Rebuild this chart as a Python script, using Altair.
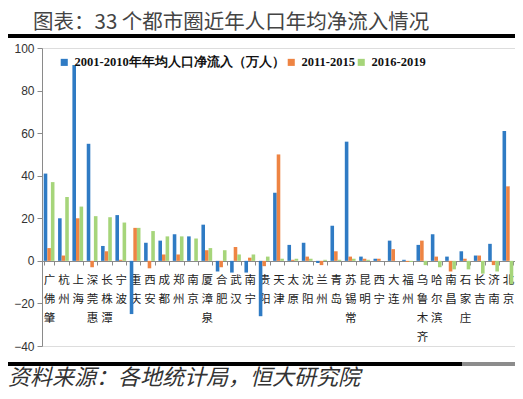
import altair as alt
import pandas as pd

title_text = "图表：33 个都市圈近年人口年均净流入情况"
source_text = "资料来源：各地统计局，恒大研究院"

cats = ["广佛肇", "杭州", "上海", "深莞惠", "长株潭", "宁波", "重庆", "西安", "成都", "郑州",
        "南京", "厦漳泉", "合肥", "武汉", "南宁", "贵阳", "天津", "太原", "沈阳", "兰州",
        "青岛", "苏锡常", "昆明", "西宁", "大连", "福州", "乌鲁木齐", "哈尔滨", "南昌", "石家庄",
        "长吉", "济南", "北京"]

series_names = ["2001-2010年年均人口净流入（万人）", "2011-2015", "2016-2019"]

s2001_2010 = [41, 20, 92, 55, 7, 21.5, -25, 8.5, 9.5, 12.5,
              11.5, 17, -5, -5.5, -5.5, -26, 32, 7.5, 8.5, -1,
              16.5, 56, 2, 1, 9.5, 0.5, 7.5, 12.5, 2, 4.5,
              2.5, 8, 61]
s2011_2015 = [6, 2.5, 20, -3, 4.5, 0.5, 15.5, -3.5, 3, 3,
              0, 5, -3, 6.5, 1.5, -2.5, 50, 0.5, 2, -2,
              4.5, 2, 1, 1, 5.5, -0.5, 9.5, 2, -5, 1,
              2.5, -2, 35]
s2016_2019 = [37, 30, 25.5, 21, 20.5, 18, 15.5, 14, 11.5, 11.5,
              10.5, 6, 5, 3, 3, 2, 1, 1, 1, 0.5,
              0.5, 1, 0.5, 0, 0, -0.5, -2, -3, -4, -4,
              -6, -5, -11]

colors = ["#2F7BC4", "#EE8443", "#A6D57A"]
y_ticks = [-40, -20, 0, 20, 40, 60, 80, 100]

rows = []
for name, vals in zip(series_names, [s2001_2010, s2011_2015, s2016_2019]):
    for c, v in zip(cats, vals):
        rows.append({"city": c, "series": name, "value": v})
df = pd.DataFrame(rows)

bars = alt.Chart(df).mark_bar().encode(
    x=alt.X("city:N", sort=cats,
            scale=alt.Scale(paddingInner=0.25, paddingOuter=0.12),
            axis=alt.Axis(title=None, orient="bottom", offset=-85,
                          labelExpr="split(datum.label, '')",
                          labelAngle=0, labelFontSize=11.5, labelLineHeight=19,
                          labelFont="Noto Sans CJK SC", labelColor="#222",
                          labelPadding=9, labelBaseline="top",
                          tickBand="extent", tickSize=4,
                          domainColor="#8a8a8a", tickColor="#8a8a8a")),
    xOffset=alt.XOffset("series:N", sort=series_names),
    y=alt.Y("value:Q", scale=alt.Scale(domain=[-40, 100], nice=False),
            axis=alt.Axis(values=y_ticks, title=None, grid=False,
                          labelFont="Liberation Sans", labelFontSize=12,
                          labelColor="#333", tickSize=5, labelPadding=3,
                          domainColor="#8a8a8a", tickColor="#8a8a8a")),
    color=alt.Color("series:N", sort=series_names,
                    scale=alt.Scale(domain=series_names, range=colors),
                    legend=alt.Legend(title=None, orient="none", legendX=16, legendY=8,
                                      direction="horizontal", symbolType="square",
                                      symbolSize=50, labelFont="Liberation Serif",
                                      labelFontWeight="bold", labelFontSize=12.5,
                                      labelColor="#111", columnPadding=-24,
                                      labelLimit=400, symbolStrokeWidth=0)),
)

title = alt.Chart(pd.DataFrame({"t": [title_text]})).mark_text(
    align="left", baseline="middle", font="Noto Sans CJK SC", fontSize=20.5, color="#444"
).encode(x=alt.value(-9), y=alt.value(-25), text="t:N")

top_line = alt.Chart(pd.DataFrame({"a": [0]})).mark_rule(color="black", strokeWidth=4).encode(
    x=alt.value(-34), x2=alt.value(473), y=alt.value(-12))

bottom_line = alt.Chart(pd.DataFrame({"a": [0]})).mark_rule(color="black", strokeWidth=4).encode(
    x=alt.value(-34), x2=alt.value(420), y=alt.value(316))

bottom_fade = alt.Chart(pd.DataFrame({"a": [0]})).mark_rule(color="#8c8c8c", strokeWidth=4).encode(
    x=alt.value(420), x2=alt.value(473), y=alt.value(316))

footer = alt.Chart(pd.DataFrame({"t": [source_text]})).mark_text(
    align="left", baseline="middle", font="Noto Sans CJK SC", fontSize=22,
    fontStyle="italic", color="#333"
).encode(x=alt.value(-34), y=alt.value(330), text="t:N")

chart = alt.layer(bars, title, top_line, bottom_line, bottom_fade, footer).properties(
    width=473, height=298,
    autosize=alt.AutoSizeParams(type="none"),
    padding={"left": 34, "top": 40, "right": 0, "bottom": 45},
).configure_view(stroke=None).configure(background="white")

chart.save("out.html", embed_options={"renderer": "svg", "actions": False})
